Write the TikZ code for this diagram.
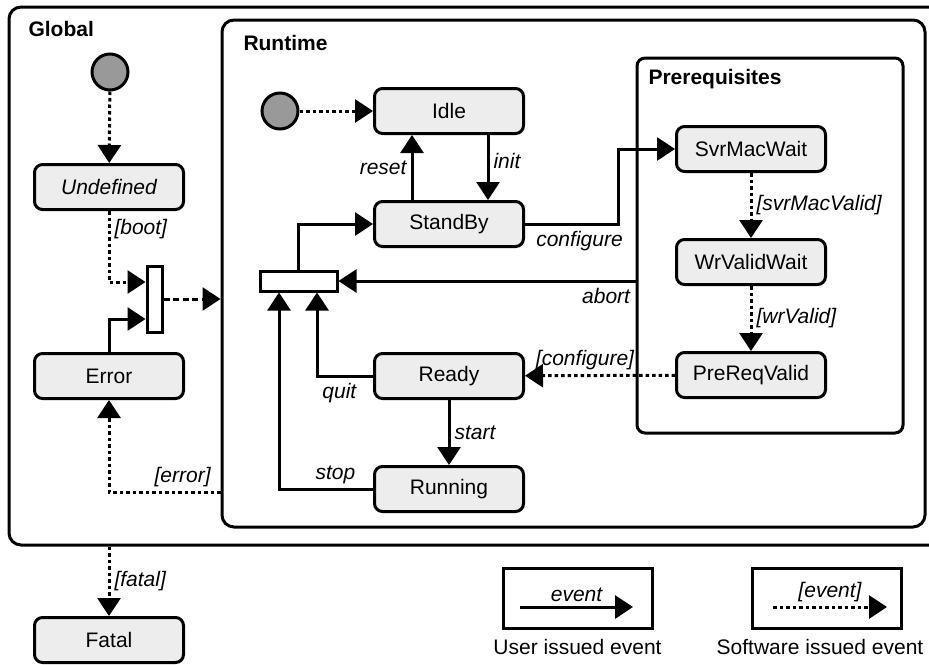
\documentclass[tikz,border=0pt]{standalone}
\usepackage{fontspec}
\setmainfont{Liberation Sans}
\usetikzlibrary{arrows.meta,positioning,fit}

\begin{document}
\begin{tikzpicture}[
    x=0.5pt, y=-0.5pt,
    node distance=32.5pt,
    font=\fontsize{10.5}{12.6}\selectfont,
    line width=1.5pt,
    state/.style={draw, rounded corners=4pt, fill=black!7, minimum width=74.5pt, minimum height=22.5pt, inner sep=0pt},
    region/.style={draw, rounded corners=6pt, inner sep=0pt},
    title/.style={anchor=base west, inner sep=0pt, font=\fontsize{10.5}{12.6}\selectfont\bfseries},
    pseudo/.style={draw, circle, fill=black!40, minimum size=18pt, inner sep=0pt},
    bar/.style={draw, fill=white, inner sep=0pt},
    legend/.style={draw, minimum width=74.5pt, minimum height=30pt, inner sep=0pt},
    lbl/.style={inner sep=2pt, font=\fontsize{10.5}{12.6}\selectfont\itshape},
    user/.style={-{Triangle[length=9pt, width=11.5pt]}},
    soft/.style={user, dash pattern=on 1.75pt off 1.5pt},
    pass/.style={user, dash pattern=on 3pt off 1.75pt},
  ]
  \useasboundingbox (0,0) rectangle (929,664);
  % containers
  \node[region, fit={(9,7) (945,545)}] (global) {};
  \node[region, fit={(222,20) (925,527)}] (runtime) {};
  \node[region, rounded corners=4pt, fit={(637,58) (903,433)}] (prereq) {};
  \node[title] (globaltitle) at (27,36) {Global};
  \node[title] (runtimetitle) at (242,50) {Runtime};
  \node[title] (prereqtitle) at (647,84) {Prerequisites};
  % global states
  \node[pseudo] (ginit) at (110,72) {};
  \node[state] (undefined) at (109,187) {\itshape Undefined};
  \node[state] (error) at (109,376) {Error};
  \node[state] (fatal) at (109,640) {Fatal};
  \node[bar, minimum width=7.5pt, minimum height=33pt] (fork) at (154.5,299) {};
  % runtime states
  \node[pseudo] (rinit) at (280,111) {};
  \node[state] (idle) at (449,111) {Idle};
  \node[state, below=of idle] (standby) {StandBy};
  \node[state] (ready) at (449,376) {Ready};
  \node[state, below=of ready] (running) {Running};
  \node[bar, minimum width=38.5pt, minimum height=10pt] (join) at (298.5,281) {};
  % prerequisites
  \node[state] (svrmac) at (751,149) {SvrMacWait};
  \node[state, below=of svrmac] (wrvalid) {WrValidWait};
  \node[state, below=of wrvalid] (prereqvalid) {PreReqValid};
  % transitions
  \draw[soft] (ginit) -- (undefined);
  \draw[soft] (undefined) |- node[lbl, right, pos=0.13] {[boot]} ([yshift=8.5pt]fork.west);
  \draw[user] (error) |- ([yshift=-10pt]fork.west);
  \draw[pass] (fork) -- (fork -| runtime.west);
  \draw[soft] (rinit) -- (idle);
  \draw[user] ([xshift=-18.5pt]standby.north) -- node[lbl, left] {reset} ([xshift=-18.5pt]idle.south);
  \draw[user] ([xshift=19.5pt]idle.south) -- node[lbl, right, pos=0.4] {init} ([xshift=19.5pt]standby.north);
  \draw[user] (standby.east) -- node[lbl, below, xshift=4pt, yshift=-1pt] {configure} ++(93,0) |- (svrmac);
  \draw[user] (join -| prereq.west) -- node[lbl, below left, pos=0, yshift=-1pt] {abort} (join);
  \draw[user] (join) |- (standby);
  \draw[user] (ready) -| node[lbl, below, pos=0.3, yshift=-1pt] {quit} ([xshift=9.25pt]join.south);
  \draw[user] (running) -| node[lbl, above, pos=0.2] {stop} ([xshift=-9.75pt]join.south);
  \draw[user] (ready) -- node[lbl, right] {start} (running);
  \draw[soft] (prereqvalid) -- node[lbl, above, pos=0.6] {[configure]} (ready);
  \draw[soft] (svrmac) -- node[lbl, right] {[svrMacValid]} (wrvalid);
  \draw[soft] (wrvalid) -- node[lbl, right] {[wrValid]} (prereqvalid);
  \draw[soft] ([yshift=-1.5pt]running -| runtime.west) -| node[lbl, above, pos=0.17] {[error]} (error);
  \draw[soft] (global.south -| fatal) -- node[lbl, right] {[fatal]} (fatal);
  % legend
  \node[legend] (leguser) at (577.5,598) {};
  \node[legend] (legsoft) at (827,598) {};
  \node[below=1pt of leguser] (capuser) {User issued event};
  \node[below=1pt of legsoft, xshift=-3.5pt] (capsoft) {Software issued event};
  \coordinate (ua) at (520,607);
  \coordinate (ub) at (633,607);
  \coordinate (sa) at (773,607);
  \coordinate (sb) at (887,607);
  \draw[user] (ua) -- node[lbl, above] {event} (ub);
  \draw[soft] (sa) -- node[lbl, above] {[event]} (sb);
\end{tikzpicture}
\end{document}
